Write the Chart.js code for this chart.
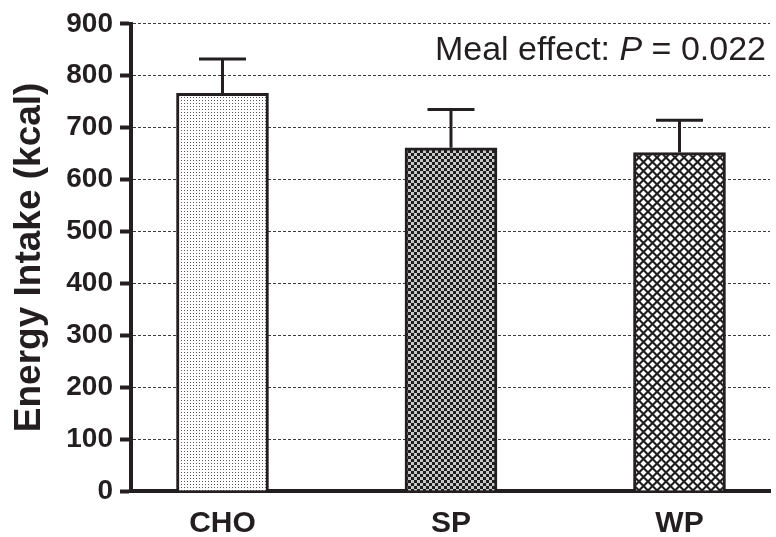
<!DOCTYPE html>
<html>
<head>
<meta charset="utf-8">
<script src="https://cdn.jsdelivr.net/npm/chart.js@4/dist/chart.umd.min.js"></script>
<style>
  html, body { margin: 0; padding: 0; background: #ffffff; }
  #wrap { width: 776px; height: 537px; }
</style>
</head>
<body>
<div id="wrap"><canvas id="chart" width="776" height="537"></canvas></div>
<script>
// Energy intake after each test meal (mean with upward SEM bar)
const categories = ['CHO', 'SP', 'WP'];
const energyMean = [766, 661, 652];
const energySem = [66, 74, 62];
const yTicks = [0, 100, 200, 300, 400, 500, 600, 700, 800, 900];
const mealEffectLabel = ['Meal effect: ', 'P', ' = 0.022'];

const INK = '#231f20';
const FONT = '"Liberation Sans", Arial, Helvetica, sans-serif';

// Tile-based fills for the three meals
function makePattern(size, drawTile) {
  const c = document.createElement('canvas');
  c.width = size; c.height = size;
  const g = c.getContext('2d');
  drawTile(g, size);
  return g.createPattern(c, 'repeat');
}
const ctxMain = document.getElementById('chart').getContext('2d');

const dotFill = makePattern(3, (g) => {
  g.fillStyle = '#ffffff'; g.fillRect(0, 0, 3, 3);
  g.fillStyle = '#5a5a5a'; g.fillRect(1, 1, 1, 1);
});
const checkFill = makePattern(6, (g) => {
  g.fillStyle = '#c8c8c8'; g.fillRect(0, 0, 6, 6);
  g.fillStyle = '#1e1e1e';
  g.fillRect(0, 0, 3, 3); g.fillRect(3, 3, 3, 3);
});
const hatchFill = makePattern(9, (g, s) => {
  g.fillStyle = '#1e1e1e'; g.fillRect(0, 0, s, s);
  g.fillStyle = '#ffffff';
  const r = 3;
  const diamond = (cx, cy) => {
    g.beginPath();
    g.moveTo(cx, cy - r); g.lineTo(cx + r, cy); g.lineTo(cx, cy + r); g.lineTo(cx - r, cy);
    g.closePath(); g.fill();
  };
  diamond(s / 2, s / 2);
  diamond(0, 0); diamond(s, 0); diamond(0, s); diamond(s, s);
});
const fills = [dotFill, checkFill, hatchFill];

// Upward error bars with caps
const errorBars = {
  id: 'errorBars',
  afterDatasetsDraw(chart) {
    const { ctx, scales: { x, y } } = chart;
    ctx.save();
    ctx.strokeStyle = INK;
    ctx.lineWidth = 3;
    ctx.lineCap = 'butt';
    categories.forEach((c, i) => {
      const px = x.getPixelForValue(i);
      const yBar = y.getPixelForValue(energyMean[i]);
      const yTop = y.getPixelForValue(energyMean[i] + energySem[i]);
      ctx.beginPath();
      ctx.moveTo(px, yBar);
      ctx.lineTo(px, yTop);
      ctx.moveTo(px - 23.5, yTop);
      ctx.lineTo(px + 23.5, yTop);
      ctx.stroke();
    });
    ctx.restore();
  }
};

// Statistics note in the upper right corner
const mealNote = {
  id: 'mealNote',
  afterDraw(chart) {
    const { ctx, chartArea } = chart;
    const size = 34;
    const fonts = [`${size}px ${FONT}`, `italic ${size}px ${FONT}`, `${size}px ${FONT}`];
    ctx.save();
    ctx.fillStyle = INK;
    ctx.textBaseline = 'alphabetic';
    ctx.textAlign = 'left';
    let total = 0;
    const widths = mealEffectLabel.map((t, i) => {
      ctx.font = fonts[i];
      const w = ctx.measureText(t).width;
      total += w;
      return w;
    });
    let xPos = chartArea.right - 4 - total;
    const baseY = 60;
    mealEffectLabel.forEach((t, i) => {
      ctx.font = fonts[i];
      ctx.fillText(t, xPos, baseY);
      xPos += widths[i];
    });
    ctx.restore();
  }
};

new Chart(ctxMain, {
  type: 'bar',
  data: {
    datasets: [{
      data: energyMean.map((v, i) => ({ x: i, y: v })),
      backgroundColor: fills,
      borderColor: INK,
      borderWidth: 3,
      borderSkipped: 'bottom',
      barThickness: 92
    }]
  },
  options: {
    responsive: false,
    animation: false,
    devicePixelRatio: 1,
    layout: { padding: { top: 21, right: 6, left: 0, bottom: 0 } },
    plugins: {
      legend: { display: false },
      tooltip: { enabled: false }
    },
    scales: {
      x: {
        type: 'linear',
        offset: false,
        min: -0.4004,
        max: 2.3961,
        afterBuildTicks(scale) {
          scale.ticks = categories.map((c, i) => ({ value: i }));
        },
        afterFit(scale) { scale.height = 46; },
        ticks: {
          callback: (v) => categories[v] ?? '',
          color: INK,
          font: { family: FONT, size: 30, weight: 'bold' },
          padding: 15,
          maxRotation: 0,
          autoSkip: false
        },
        grid: { display: true, drawOnChartArea: false, drawTicks: false },
        border: { display: true, color: INK, width: 4 }
      },
      y: {
        min: 0,
        max: 900,
        afterBuildTicks(scale) {
          scale.ticks = yTicks.map((v) => ({ value: v }));
        },
        afterFit(scale) { scale.width = 131; },
        ticks: {
          color: INK,
          font: { family: FONT, size: 28, weight: 'bold' },
          padding: 7
        },
        grid: {
          color: '#3a3a3a',
          lineWidth: 1,
          tickLength: 11,
          tickWidth: 4,
          tickColor: INK,
          tickBorderDash: []
        },
        border: { display: true, color: INK, width: 4, dash: [3, 2] },
        title: {
          display: true,
          text: 'Energy Intake (kcal)',
          color: INK,
          font: { family: FONT, size: 37, weight: 'bold' },
          padding: { top: 8, bottom: 0 }
        }
      }
    }
  },
  plugins: [errorBars, mealNote]
});
</script>
</body>
</html>
